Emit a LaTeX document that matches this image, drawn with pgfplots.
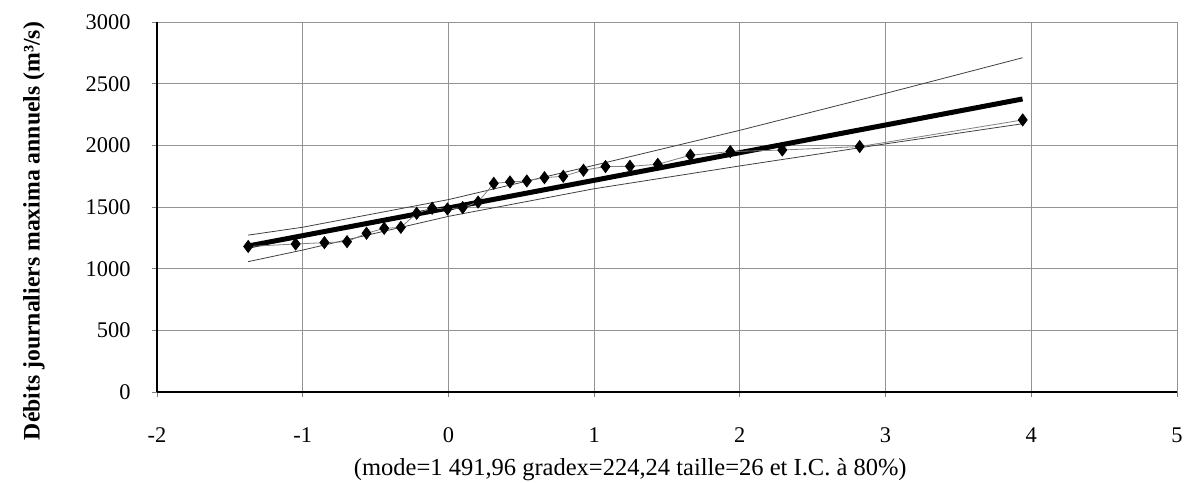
\documentclass[border=0pt]{standalone}
\usepackage{pgfplots}
\pgfplotsset{compat=1.18}
\usepackage{fontspec}
\setmainfont{Liberation Serif}
\begin{document}
\begin{tikzpicture}
\useasboundingbox (-157bp,-91bp) rectangle (1031bp,392bp);
\begin{axis}[
  scale only axis, width=1020bp, height=370bp,
  xmin=-2, xmax=5, ymin=0, ymax=3000,
  xtick={-2,-1,0,1,2,3,4,5}, xticklabels={-2,-1,0,1,2,3,4,5},
  ytick={0,500,1000,1500,2000,2500,3000}, yticklabels={0,500,1000,1500,2000,2500,3000},
  axis x line*=bottom, axis y line*=left,
  x axis line style={line width=1.5bp, -},
  y axis line style={line width=2.2bp, -},
  tick align=outside, major tick length=5bp,
  tick style={gray, line width=0.8bp},
  grid=major, major grid style={gray!85, line width=0.8bp},
  ticklabel style={font=\fontsize{22.5}{26}\selectfont},
  yticklabel style={xshift=-18bp},
  xticklabel style={yshift=-38bp, anchor=center},
  xlabel={(mode=1 491,96 gradex=224,24 taille=26 et I.C. à 80\%)},
  xlabel style={font=\fontsize{24.6}{28}\selectfont, at={(axis description cs:0.464,-0.211)}, anchor=center},
  ylabel={Débits journaliers maxima annuels (m³/s)},
  ylabel style={font=\bfseries\fontsize{23.8}{27}\selectfont, at={(axis description cs:-0.1206,0.435)}, anchor=center},
  clip=false,
]
% upper confidence bound
\addplot[black!75, line width=0.8bp] coordinates {
(-1.374,1272) (-1,1336) (0,1560) (1,1838) (2,2122) (3,2421) (3.94,2710)};
% lower confidence bound
\addplot[black!75, line width=0.8bp] coordinates {
(-1.374,1057) (-1,1151) (0,1424) (1,1648) (2,1833) (3,2012) (3.94,2175)};
% fitted Gumbel line
\addplot[black, line width=5bp] coordinates {(-1.374,1183.8) (3.94,2375.8)};
% observations
\addplot[gray, line width=0.8bp, mark=diamond*, mark size=6bp, mark options={fill=black, draw=black, solid}] coordinates {
(-1.3741,1180) (-1.0482,1200) (-0.8509,1211) (-0.6958,1219) (-0.5619,1287)
(-0.4405,1327) (-0.3266,1335) (-0.2177,1449) (-0.1115,1490) (-0.0068,1484)
(0.0978,1495) (0.2037,1540) (0.3114,1692) (0.4225,1703) (0.5379,1711)
(0.6591,1738) (0.7881,1749) (0.9269,1798) (1.0780,1828) (1.2459,1830)
(1.4367,1846) (1.6607,1920) (1.9344,1949) (2.2915,1962) (2.8225,1990)
(3.9415,2206)};
\end{axis}
\end{tikzpicture}
\end{document}
